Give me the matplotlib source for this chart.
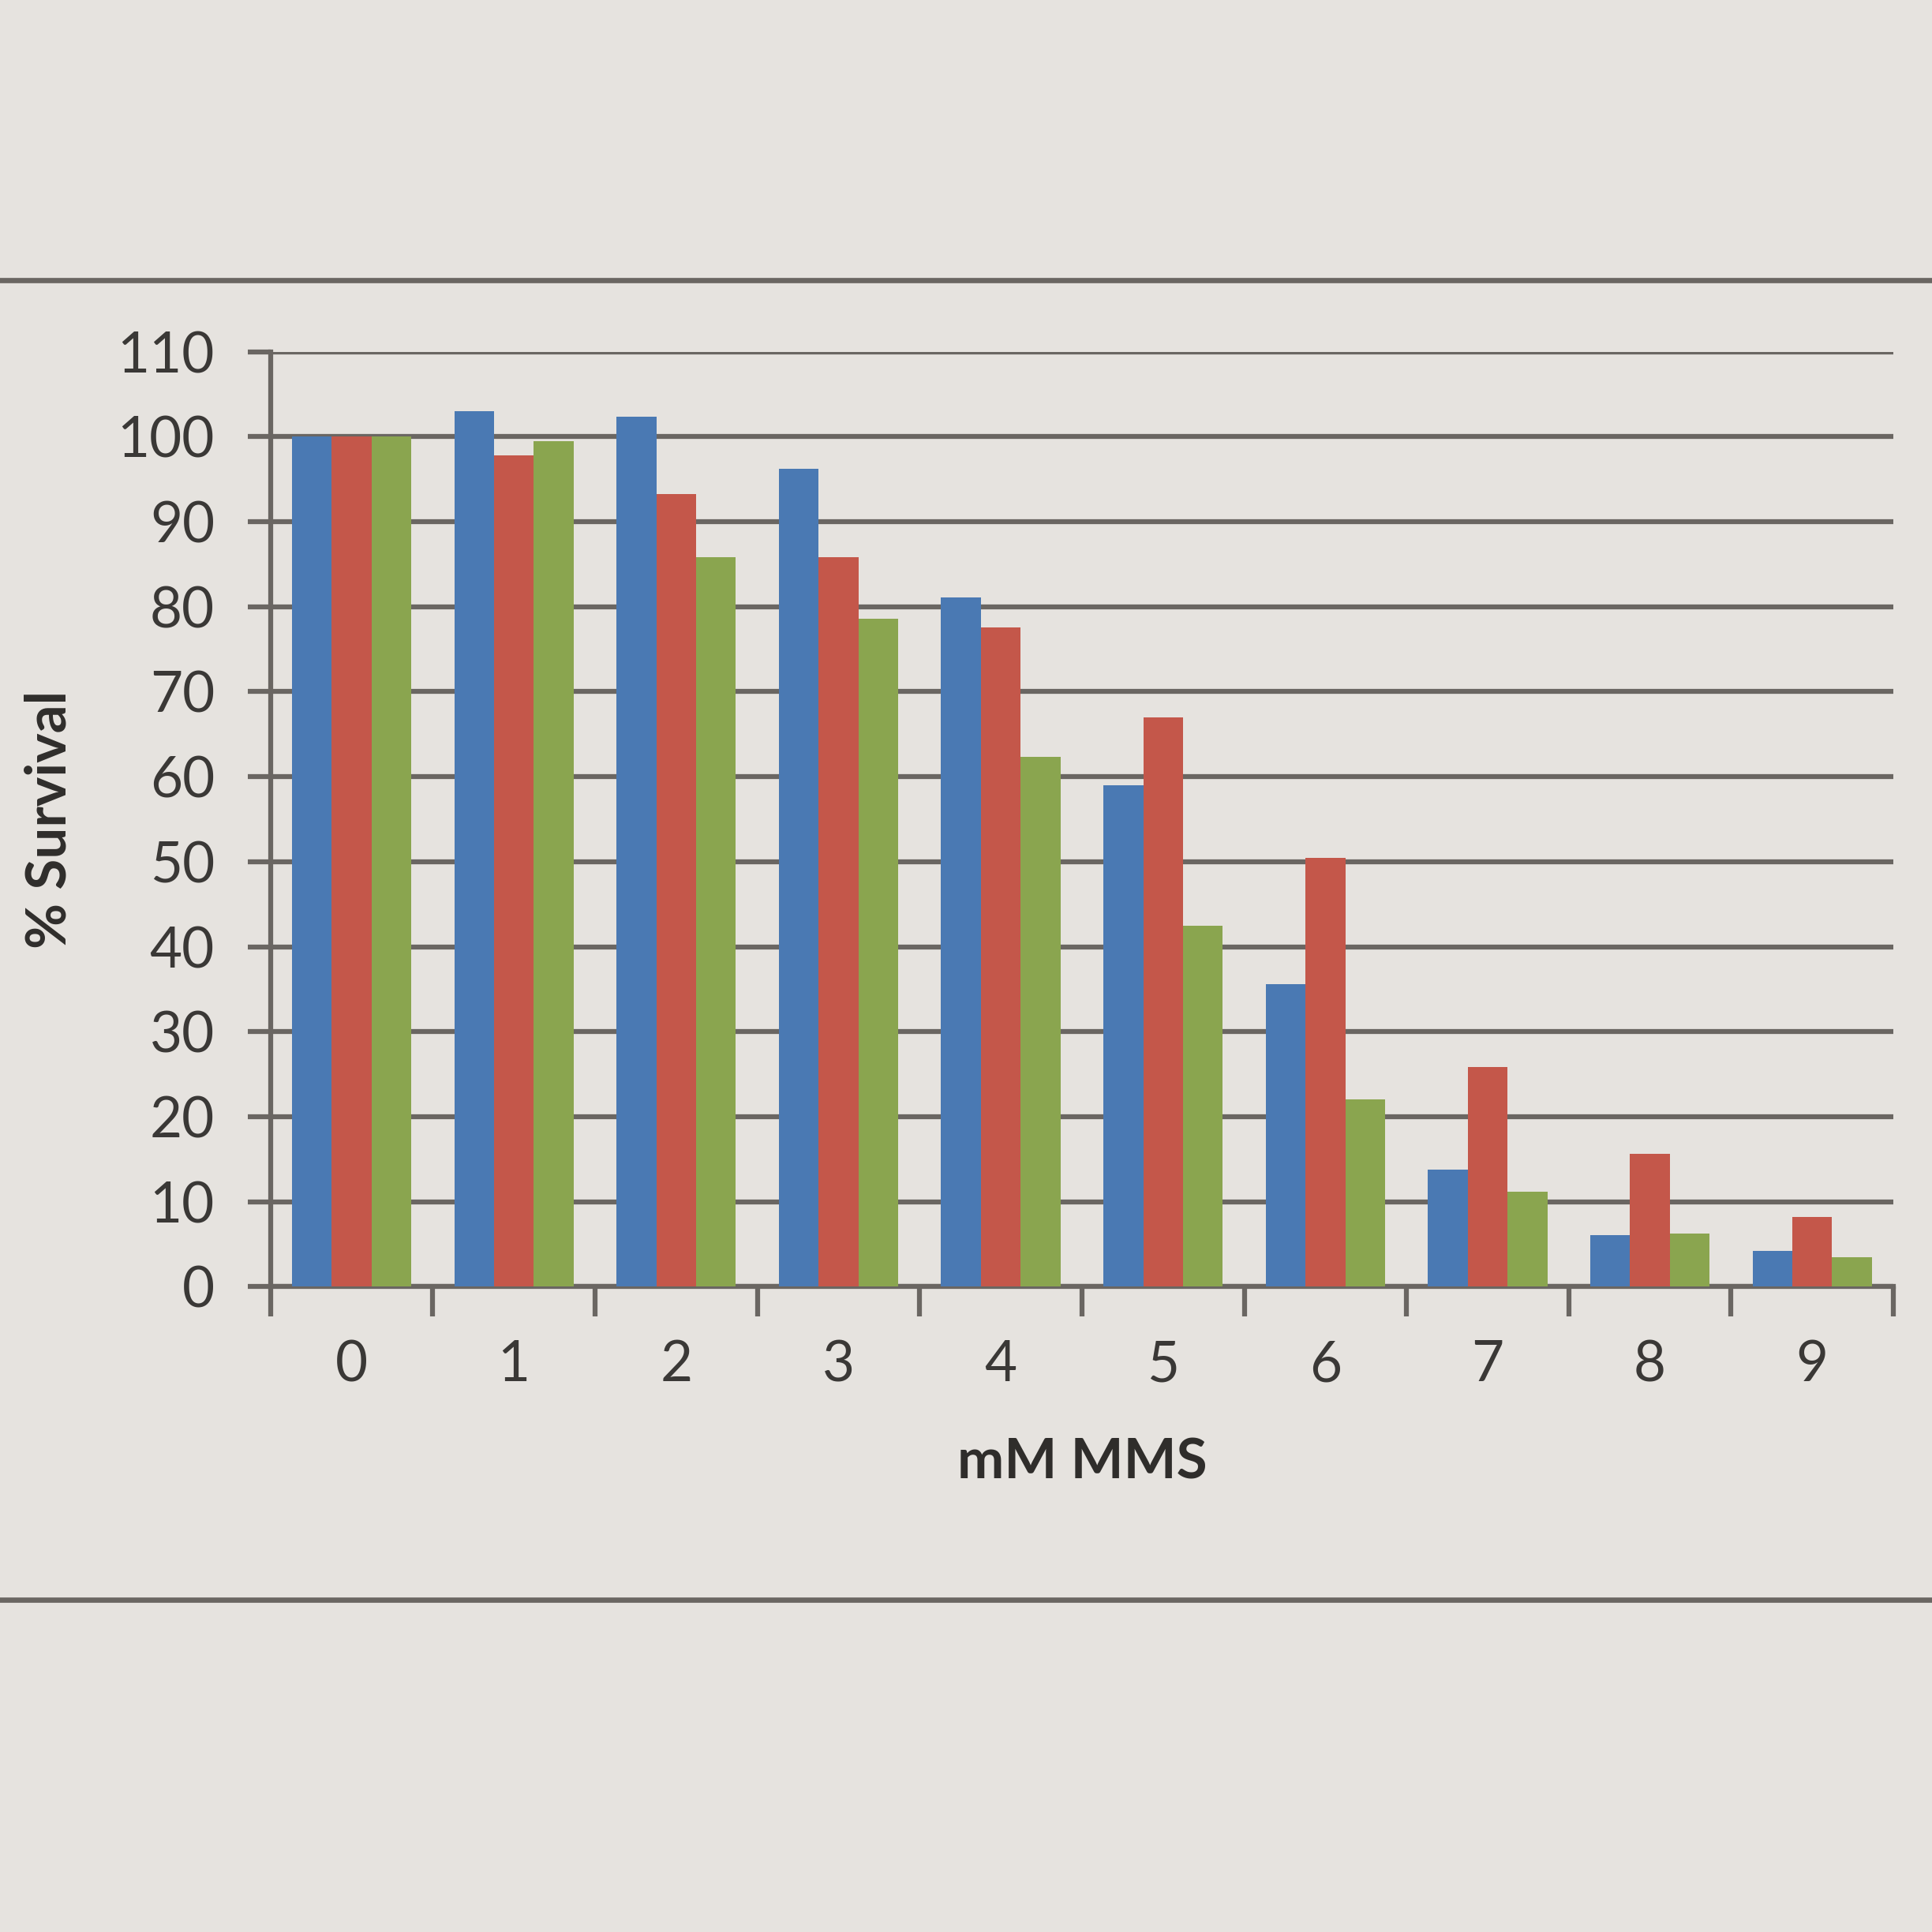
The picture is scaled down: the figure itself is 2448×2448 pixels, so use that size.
import numpy as np
import matplotlib
matplotlib.use("Agg")
import matplotlib.pyplot as plt
from matplotlib.lines import Line2D

# ─────────────────────────────────────────────
# Data
# ─────────────────────────────────────────────
doses = ["0", "1", "2", "3", "4", "5", "6", "7", "8", "9"]   # mM MMS
survival_blue  = [100, 103.0, 102.3, 96.2, 81.1, 59.0, 35.6, 13.8, 6.1, 4.2]
survival_red   = [100, 97.8, 93.2, 85.8, 77.6, 67.0, 50.4, 25.8, 15.6, 8.2]
survival_green = [100, 99.5, 85.8, 78.6, 62.3, 42.5, 22.0, 11.2, 6.3, 3.5]

y_ticks = list(range(0, 111, 10))

# ─────────────────────────────────────────────
# Style
# ─────────────────────────────────────────────
plt.rcParams["font.family"] = ["Lato", "DejaVu Sans"]
paper = "#e6e3df"
grid_col = "#6a6662"
colors = ["#4a79b3", "#c4574a", "#8aa54f"]

fig = plt.figure(figsize=(8.16, 8.16), dpi=300, facecolor=paper)
ax = fig.add_axes([0.14, 0.334, 0.84, 0.484])
ax.set_facecolor(paper)

x = np.arange(len(doses))
w = 0.245
for i, (vals, c) in enumerate(zip([survival_blue, survival_red, survival_green], colors)):
    ax.bar(x + (i - 1) * w, vals, width=w, color=c, zorder=3)

ax.set_xlim(-0.5, len(doses) - 0.5)
ax.set_ylim(0, 110)

# gridlines / axes
ax.set_yticks(y_ticks)
ax.yaxis.grid(True, color=grid_col, linewidth=1.5, zorder=0)
ax.tick_params(axis="y", length=7, width=1.5, color=grid_col,
               labelsize=17, labelcolor="#3a3836", pad=10)

# category boundaries carry tick marks, labels sit in the middle
ax.set_xticks(np.arange(-0.5, len(doses)), labels=[""] * (len(doses) + 1))
ax.set_xticks(x, labels=doses, minor=True)
ax.tick_params(axis="x", which="major", length=9, width=1.5, color=grid_col)
ax.tick_params(axis="x", which="minor", length=0, labelsize=17,
               labelcolor="#3a3836", pad=16)

for s in ["top", "right"]:
    ax.spines[s].set_visible(False)
for s in ["left", "bottom"]:
    ax.spines[s].set_color(grid_col)
    ax.spines[s].set_linewidth(1.5)

ax.set_ylabel("% Survival", fontsize=17, fontweight="bold", color="#2f2d2b")
ax.yaxis.set_label_coords(-0.12, 0.5)
ax.set_xlabel("mM MMS", fontsize=17, fontweight="bold", color="#2f2d2b", labelpad=14)

# page rules above and below the chart
for yy in (0.855, 0.172):
    fig.add_artist(Line2D([0, 1], [yy, yy], transform=fig.transFigure,
                          color=grid_col, linewidth=1.6))

fig.savefig("out.png", dpi=300, facecolor=paper)
